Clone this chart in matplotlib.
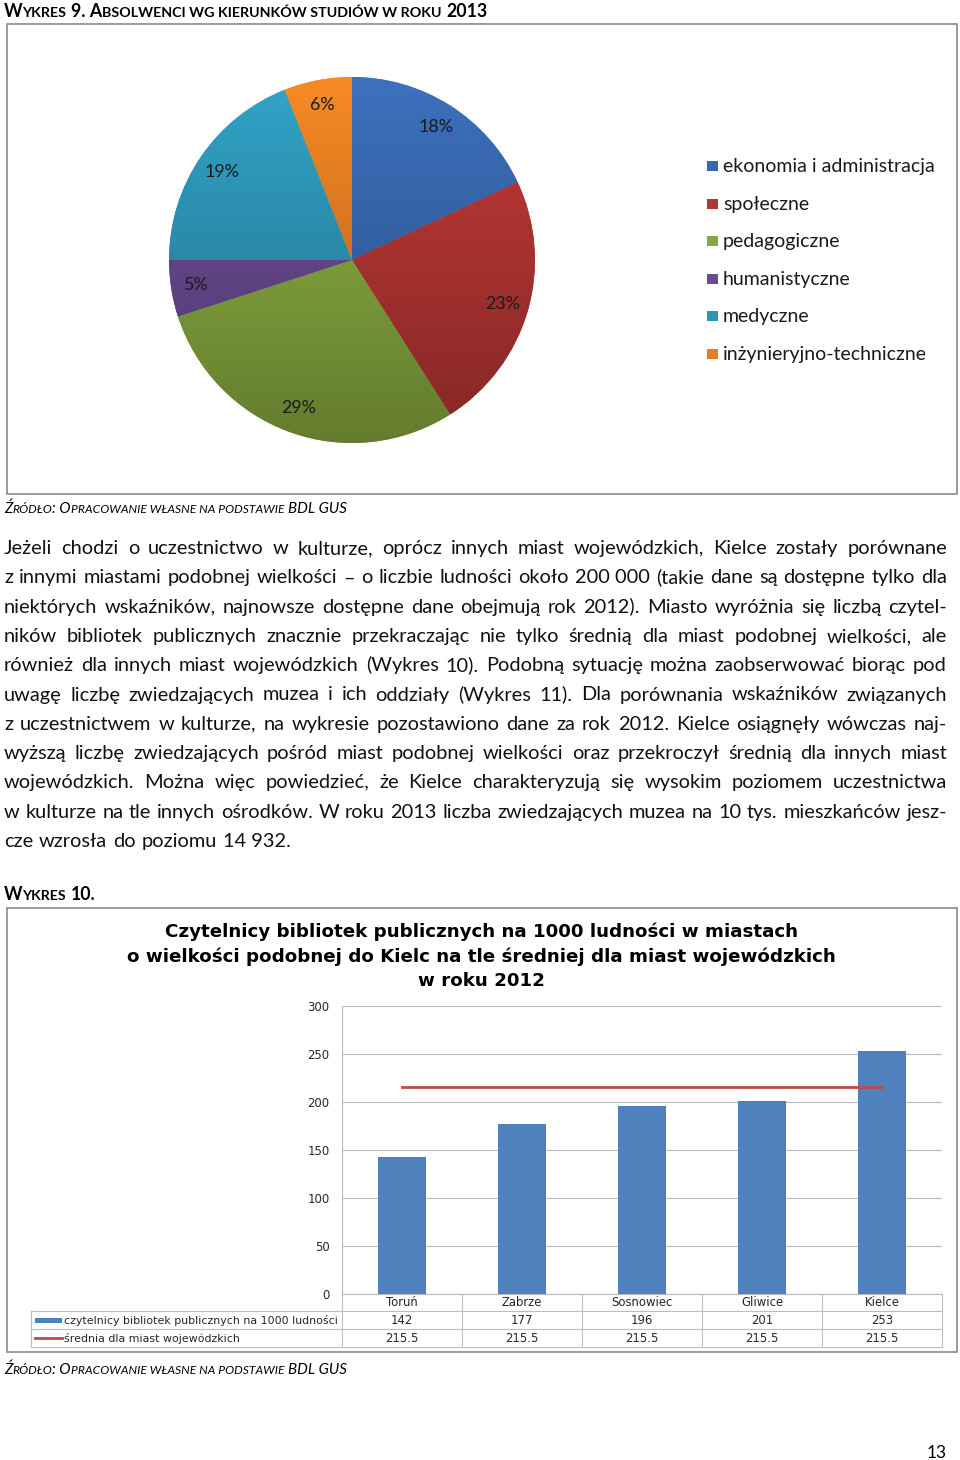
import matplotlib
matplotlib.use("Agg")
import matplotlib.pyplot as plt
import matplotlib.transforms as mtransforms
from matplotlib.patches import Rectangle
from matplotlib.lines import Line2D
import numpy as np

W, H = 960, 1460
BODY = "Lato"
CHART = "DejaVu Sans"

# Wykres 9 - absolwenci wg kierunkow
kierunki = ["ekonomia i administracja", "społeczne", "pedagogiczne",
            "humanistyczne", "medyczne", "inżynieryjno-techniczne"]
udzialy = [18, 23, 29, 5, 19, 6]
kolory = ["#3767ad", "#b23533", "#86a83f", "#684a91", "#2d95b6", "#e27d22"]

# Wykres 10 - czytelnicy bibliotek
miasta = ["Toruń", "Zabrze", "Sosnowiec", "Gliwice", "Kielce"]
czytelnicy = [142, 177, 196, 201, 253]
srednia = [215.5, 215.5, 215.5, 215.5, 215.5]
y_ticks = [0, 50, 100, 150, 200, 250, 300]
seria_nazwy = ["czytelnicy bibliotek publicznych na 1000 ludności",
               "średnia dla miast wojewódzkich"]
tytul_10 = ["Czytelnicy bibliotek publicznych na 1000 ludności w miastach",
            "o wielkości podobnej do Kielc na tle średniej dla miast wojewódzkich",
            "w roku 2012"]

akapit = [
    "Jeżeli chodzi o uczestnictwo w kulturze, oprócz innych miast wojewódzkich, Kielce zostały porównane",
    "z innymi miastami podobnej wielkości – o liczbie ludności około 200\u00a0000 (takie dane są dostępne tylko dla",
    "niektórych wskaźników, najnowsze dostępne dane obejmują rok 2012). Miasto wyróżnia się liczbą czytel-",
    "ników bibliotek publicznych znacznie przekraczając nie tylko średnią dla miast podobnej wielkości, ale",
    "również dla innych miast wojewódzkich (Wykres 10). Podobną sytuację można zaobserwować biorąc pod",
    "uwagę liczbę zwiedzających muzea i ich oddziały (Wykres 11). Dla porównania wskaźników związanych",
    "z uczestnictwem w kulturze, na wykresie pozostawiono dane za rok 2012. Kielce osiągnęły wówczas naj-",
    "wyższą liczbę zwiedzających pośród miast podobnej wielkości oraz przekroczył średnią dla innych miast",
    "wojewódzkich. Można więc powiedzieć, że Kielce charakteryzują się wysokim poziomem uczestnictwa",
    "w kulturze na tle innych ośrodków. W roku 2013 liczba zwiedzających muzea na 10 tys. mieszkańców jesz-",
    "cze wzrosła do poziomu 14\u00a0932.",
]

fig = plt.figure(figsize=(W / 100, H / 100), dpi=100)
page = fig.add_axes([0, 0, 1, 1])
page.set_xlim(0, W)
page.set_ylim(H, 0)
page.axis("off")
fig.canvas.draw()
r = fig.canvas.get_renderer()


def measure(s, size, **kw):
    t = page.text(0, 0, s, fontsize=size, **kw)
    w = t.get_window_extent(renderer=r).width
    t.remove()
    return w


def space(size, **kw):
    return measure("a a", size, **kw) - measure("aa", size, **kw)


def fit(s, width, **kw):
    return 10 * width / measure(s, 10, **kw)


def runs_width(parts, size, **kw):
    tot = 0
    for s, k in parts:
        n_lead = len(s) - len(s.lstrip())
        n_trail = len(s) - len(s.rstrip())
        tot += (n_lead + n_trail) * space(size * k, **kw) + measure(s.strip(), size * k, **kw)
    return tot


def small_caps(x, y, parts, width, **kw):
    size = 10 * width / runs_width(parts, 10, **kw)
    for s, k in parts:
        n_lead = len(s) - len(s.lstrip())
        n_trail = len(s) - len(s.rstrip())
        sp = space(size * k, **kw)
        x += n_lead * sp
        page.text(x, y, s.strip(), fontsize=size * k, va="baseline", ha="left", **kw)
        x += measure(s.strip(), size * k, **kw) + n_trail * sp


# naglowek wykresu 9
small_caps(4, 17, [("W", 1), ("YKRES", 0.8), (" 9. A", 1),
                   ("BSOLWENCI WG KIERUNKÓW STUDIÓW W ROKU", 0.8), (" 2013", 1)],
           483, family=BODY, fontweight="bold", color="black")

page.add_patch(Rectangle((7, 24), 950, 470, fill=False, edgecolor="#8a8a8a", lw=1.2))

# wykres kolowy z gradientem
R = 183 * 1.01
pie_ax = fig.add_axes([(352 - R) / W, 1 - (260 + R) / H, 2 * R / W, 2 * R / H])
lab_size = fit("18%", 35, family=BODY)
wedges, _, pct = pie_ax.pie(udzialy, colors=kolory, startangle=90, counterclock=False,
                            autopct="%1.0f%%", pctdistance=0.86,
                            wedgeprops=dict(linewidth=0),
                            textprops=dict(family=BODY, fontsize=lab_size, color="#1a1a1a"))
shade = np.linspace(1.1, 0.74, 256)[:, None]
for w_, c in zip(wedges, kolory):
    base = np.array(matplotlib.colors.to_rgb(c))
    img = np.clip(shade[:, :, None] * base[None, None, :], 0, 1)
    im = pie_ax.imshow(img, extent=(-1, 1, -1, 1), origin="upper", aspect="auto", zorder=1.5)
    im.set_clip_path(w_)
for t in pct:
    t.set_zorder(3)
pie_ax.set_xlim(-1.01, 1.01)
pie_ax.set_ylim(-1.01, 1.01)

# legenda wykresu 9
leg_size = fit(kierunki[0], 212, family=BODY)
for i, (k, c) in enumerate(zip(kierunki, kolory)):
    yb = 172 + 37.6 * i
    page.add_patch(Rectangle((707, yb - 11), 11, 10, facecolor=c, edgecolor="none"))
    page.text(723, yb, k, family=BODY, fontsize=leg_size, va="baseline", color="#1a1a1a")

src = [("Ź", 1), ("RÓDŁO", 0.8), (": O", 1), ("PRACOWANIE WŁASNE NA PODSTAWIE", 0.8), (" BDL GUS", 1)]
small_caps(4, 513, src, 342, family=BODY, style="italic", color="black")

# akapit wyjustowany: pierwsze slowo od lewej, ostatnie dosuniete do prawej
nat = max(measure(l, 13, family=BODY) for l in akapit)
body_size = 13 * 930 / nat
sp_body = space(body_size, family=BODY)
for i, line in enumerate(akapit):
    y = 554 + 29.3 * i
    words = line.split(" ")
    ws = [measure(w_, body_size, family=BODY) for w_ in words]
    last = i == len(akapit) - 1
    gap = sp_body * 1.15 if last else (947 - 4 - sum(ws)) / (len(words) - 1)
    x = 4
    for j, (w_, wd) in enumerate(zip(words, ws)):
        if j == len(words) - 1 and not last:
            page.text(947, y, w_, family=BODY, fontsize=body_size, va="baseline",
                      ha="right", color="#111111")
        else:
            page.text(x, y, w_, family=BODY, fontsize=body_size, va="baseline",
                      ha="left", color="#111111")
        x += wd + gap

small_caps(4, 900, [("W", 1), ("YKRES", 0.8), (" 10.", 1)], 91,
           family=BODY, fontweight="bold", color="black")

# wykres slupkowy
page.add_patch(Rectangle((7, 908), 950, 444, fill=False, edgecolor="#8a8a8a", lw=1.2))
t_size = fit(tytul_10[1], 709, family=CHART, fontweight="bold")
for i, s in enumerate(tytul_10):
    page.text(481.5, 937 + 24.5 * i, s, family=CHART, fontweight="bold", fontsize=t_size,
              ha="center", va="baseline", color="black")

top, bot = 1005.7, 1293.7
bar_ax = fig.add_axes([342 / W, 1 - bot / H, 600 / W, (bot - top) / H])
bar_ax.patch.set_alpha(0)
x_pos = np.arange(len(miasta))
bar_ax.bar(x_pos, czytelnicy, width=0.4, color="#4f81bd", zorder=3)
bar_ax.plot(x_pos, srednia, color="#be4b48", lw=2, zorder=4)
bar_ax.set_xlim(-0.5, len(miasta) - 0.5)
bar_ax.set_ylim(0, 300)
bar_ax.set_yticks(y_ticks)
bar_ax.set_xticks([])
bar_ax.yaxis.grid(True, color="#b8b8b8", lw=0.8)
bar_ax.set_axisbelow(True)
for side in ["top", "right"]:
    bar_ax.spines[side].set_visible(False)
for side in ["left", "bottom"]:
    bar_ax.spines[side].set_color("#b8b8b8")
    bar_ax.spines[side].set_linewidth(0.8)

tab_size = fit(seria_nazwy[0], 274, family=CHART)
val_size = tab_size * 1.05
bar_ax.tick_params(axis="y", length=0, pad=9, labelsize=val_size, labelcolor="#262626")
for lab in bar_ax.get_yticklabels():
    lab.set_family(CHART)

# tabela danych
mix = mtransforms.blended_transform_factory(bar_ax.transData, page.transData)
grid_c = "#bdbdbd"
edges = np.arange(len(miasta) + 1) - 0.5
for e in edges:
    page.add_line(Line2D([e, e], [bot, 1347], transform=mix, color=grid_c, lw=0.8))
page.add_line(Line2D([31, 31], [1310.5, 1347], color=grid_c, lw=0.8))
for yy in [1310.5, 1329, 1347]:
    page.add_line(Line2D([31, 942], [yy, yy], color=grid_c, lw=0.8))
for i, m in enumerate(miasta):
    page.text(i, 1303, m, transform=mix, ha="center", va="center",
              family=CHART, fontsize=val_size, color="#262626")
    page.text(i, 1320.5, f"{czytelnicy[i]:g}", transform=mix, ha="center", va="center",
              family=CHART, fontsize=val_size, color="#262626")
    page.text(i, 1338.5, f"{srednia[i]:g}", transform=mix, ha="center", va="center",
              family=CHART, fontsize=val_size, color="#262626")
page.add_patch(Rectangle((35, 1317.7), 27, 5.6, facecolor="#4f81bd", edgecolor="none"))
page.add_line(Line2D([35, 62], [1338, 1338], color="#be4b48", lw=2))
page.text(63.5, 1320.5, seria_nazwy[0], ha="left", va="center", family=CHART,
          fontsize=tab_size, color="#262626")
page.text(63.5, 1338.5, seria_nazwy[1], ha="left", va="center", family=CHART,
          fontsize=tab_size, color="#262626")

small_caps(4, 1374, src, 342, family=BODY, style="italic", color="black")

page.text(937, 1458, "13", family=BODY, fontsize=fit("13", 20, family=BODY),
          ha="center", va="baseline", color="black")

fig.savefig("out.png", dpi=100)
